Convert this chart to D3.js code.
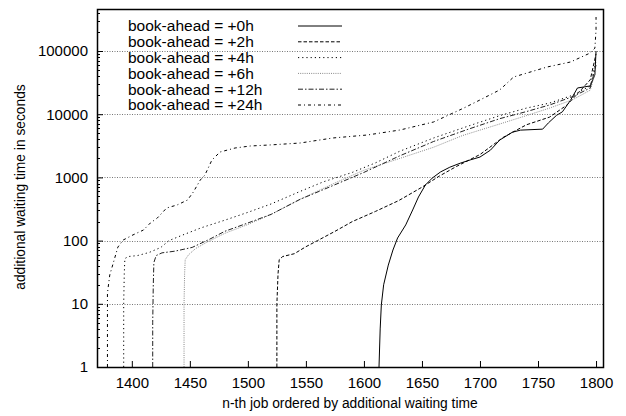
<!DOCTYPE html>
<html>
<head>
<meta charset="utf-8">
<script src="https://cdn.jsdelivr.net/npm/d3@7"></script>
<style>
  body { margin: 0; background: #fff; }
  text { font-family: "Liberation Sans", Arial, sans-serif; fill: #000; }
</style>
</head>
<body>
<svg id="chart" width="626" height="416"></svg>
<script>
  // Data: [n-th job, additional waiting time in seconds]
  var ahead0h = [[1613, 1], [1614, 4], [1615, 9.6], [1617, 20], [1621, 41], [1625, 71], [1629, 110],
    [1636, 177], [1642, 305], [1647, 490], [1653, 760], [1659, 980], [1666, 1220], [1674, 1450],
    [1683, 1680], [1692, 1900], [1700, 2100], [1709, 2700], [1717, 3900], [1728, 5200], [1735, 5600],
    [1754, 5800], [1759, 7300], [1766, 9600], [1771, 10900], [1778, 16600], [1784, 26000],
    [1795, 28000], [1799, 42000], [1800, 100000]]
  var ahead2h = [[1525, 1], [1525, 10], [1526, 30], [1527, 50], [1530, 56], [1540, 62], [1550, 80],
    [1560, 100], [1575, 140], [1590, 200], [1610, 290], [1630, 430], [1650, 700], [1665, 1050],
    [1680, 1500], [1700, 2300], [1720, 4300], [1740, 6800], [1760, 9000], [1775, 14000],
    [1785, 22000], [1795, 35000], [1800, 90000]]
  var ahead4h = [[1393, 1], [1393, 10], [1393.5, 30], [1394, 52], [1397, 56], [1405, 58],
    [1415, 65], [1425, 78], [1432, 100], [1445, 125], [1460, 160], [1480, 210], [1500, 280],
    [1520, 380], [1545, 600], [1565, 850], [1590, 1200], [1610, 1700], [1631, 2600],
    [1660, 4200], [1690, 6500], [1717, 9500], [1740, 12500], [1760, 15000], [1780, 20000],
    [1795, 28000], [1800, 70000]]
  var ahead6h = [[1445, 1], [1445, 10], [1445.5, 30], [1446, 50], [1449, 60], [1455, 75],
    [1465, 95], [1480, 130], [1500, 180], [1520, 260], [1545, 450], [1574, 800], [1600, 1300],
    [1631, 2000], [1660, 3000], [1685, 4600], [1717, 7000], [1740, 9500], [1760, 12500],
    [1780, 17000], [1795, 24000], [1800, 50000]]
  var ahead12h = [[1418, 1], [1418, 5], [1418.5, 20], [1419, 45], [1421, 58], [1426, 64],
    [1437, 68], [1452, 78], [1467, 105], [1480, 140], [1500, 190], [1520, 260], [1545, 450],
    [1570, 700], [1600, 1200], [1631, 2200], [1660, 3700], [1690, 5800], [1717, 8500],
    [1740, 11000], [1760, 14000], [1780, 19000], [1795, 26000], [1800, 60000]]
  var ahead24h = [[1379, 1], [1379, 3.9], [1379, 14.8], [1381, 28.6], [1384, 44], [1388, 79],
    [1392.5, 102], [1401, 123], [1410, 147], [1416, 190], [1422, 228], [1430, 328], [1439, 366],
    [1448, 439], [1453, 587], [1459, 910], [1463, 1090], [1469, 1880], [1476, 2520], [1489, 2920],
    [1502, 3140], [1519, 3260], [1545, 3500], [1573, 4200], [1603, 4690], [1631, 5620],
    [1660, 7530], [1686, 12500], [1700, 16800], [1717, 24200], [1729, 38800], [1758, 55900],
    [1778, 67000], [1795, 93000], [1799, 111000], [1800, 215000], [1800, 345000]]

  var seriesNames = ['book-ahead = +0h', 'book-ahead = +2h', 'book-ahead = +4h',
    'book-ahead = +6h', 'book-ahead = +12h', 'book-ahead = +24h']
  var seriesData = [ahead0h, ahead2h, ahead4h, ahead6h, ahead12h, ahead24h]
  var xTicks = [1400, 1450, 1500, 1550, 1600, 1650, 1700, 1750, 1800]
  var yTicks = [1, 10, 100, 1000, 10000, 100000]

  // Line styles per series
  var styles = [
    { color: '#000', dash: null },
    { color: '#000', dash: '3.5,2' },
    { color: '#000', dash: '1.2,3' },
    { color: '#888', dash: '1,1.2' },
    { color: '#222', dash: '5,2,1.5,2' },
    { color: '#000', dash: '3,3,1,3' }
  ]

  var margin = { left: 97, right: 23, top: 9, bottom: 49 }
  var width = 626
  var height = 416

  var svg = d3.select('#chart')

  var x = d3.scaleLinear()
    .domain([1370, 1806])
    .range([margin.left, width - margin.right])

  var y = d3.scaleLog()
    .domain([1, 462000])
    .range([height - margin.bottom, margin.top])

  // Grid lines
  svg.append('g')
    .selectAll('line')
    .data(yTicks.slice(1))
    .enter().append('line')
    .attr('x1', x.range()[0])
    .attr('x2', x.range()[1])
    .attr('y1', function (d) { return Math.round(y(d)) + 0.5 })
    .attr('y2', function (d) { return Math.round(y(d)) + 0.5 })
    .style('stroke', '#777')
    .style('stroke-width', 1)
    .style('stroke-dasharray', '1,1.5')

  // Y axis ticks (major + minor) and labels
  var yAxis = d3.axisLeft(y)
    .tickValues(yTicks)
    .tickSize(-6)
    .tickPadding(9)
    .tickFormat(d3.format('d'))
  var gy = svg.append('g')
    .attr('transform', 'translate(' + x.range()[0] + ',0)')
    .call(yAxis)
  gy.select('.domain').remove()
  gy.selectAll('text').style('font-size', '15px').style('font-family', '"Liberation Sans", Arial, sans-serif')

  var minor = []
  for (var e = 0; e < 6; e++) {
    for (var m = 2; m < 10; m++) {
      var v = m * Math.pow(10, e)
      if (v < y.domain()[1]) minor.push(v)
    }
  }
  svg.append('g')
    .selectAll('line')
    .data(minor)
    .enter().append('line')
    .attr('x1', x.range()[0])
    .attr('x2', x.range()[0] + 3)
    .attr('y1', function (d) { return Math.round(y(d)) + 0.5 })
    .attr('y2', function (d) { return Math.round(y(d)) + 0.5 })
    .style('stroke', '#000')

  // X axis
  var xAxis = d3.axisBottom(x)
    .tickValues(xTicks)
    .tickSize(-6)
    .tickPadding(10)
    .tickFormat(d3.format('d'))
  var gx = svg.append('g')
    .attr('transform', 'translate(0,' + y.range()[0] + ')')
    .call(xAxis)
  gx.select('.domain').remove()
  gx.selectAll('text').style('font-size', '15px').style('font-family', '"Liberation Sans", Arial, sans-serif')

  // Curves
  var line = d3.line()
    .x(function (d) { return x(d[0]) })
    .y(function (d) { return y(d[1]) })

  svg.append('g')
    .selectAll('path')
    .data(seriesData)
    .enter().append('path')
    .attr('d', line)
    .style('fill', 'none')
    .style('stroke', function (d, i) { return styles[i].color })
    .style('stroke-width', 1)
    .style('stroke-dasharray', function (d, i) { return styles[i].dash })

  // Frame
  svg.append('rect')
    .attr('x', x.range()[0] + 0.5)
    .attr('y', y.range()[1] + 0.5)
    .attr('width', x.range()[1] - x.range()[0])
    .attr('height', y.range()[0] - y.range()[1])
    .style('fill', 'none')
    .style('stroke', '#000')
    .style('stroke-width', 1.5)

  // Legend
  var legend = svg.append('g')
    .selectAll('g')
    .data(seriesNames)
    .enter().append('g')
    .attr('transform', function (d, i) { return 'translate(0,' + (26 + i * 15.8) + ')' })
  legend.append('text')
    .attr('x', 128)
    .attr('dy', '0.35em')
    .style('font-size', '15.5px')
    .text(function (d) { return d })
  legend.append('line')
    .attr('x1', 298)
    .attr('x2', 342)
    .style('stroke', function (d, i) { return styles[i].color })
    .style('stroke-dasharray', function (d, i) { return styles[i].dash })

  // Axis titles
  svg.append('text')
    .attr('x', (x.range()[0] + x.range()[1]) / 2)
    .attr('y', 408)
    .attr('text-anchor', 'middle')
    .style('font-size', '13.8px')
    .text('n-th job ordered by additional waiting time')
  svg.append('text')
    .attr('transform', 'translate(25,' + 187 + ') rotate(-90)')
    .attr('text-anchor', 'middle')
    .style('font-size', '13.8px')
    .text('additional waiting time in seconds')
</script>
</body>
</html>
